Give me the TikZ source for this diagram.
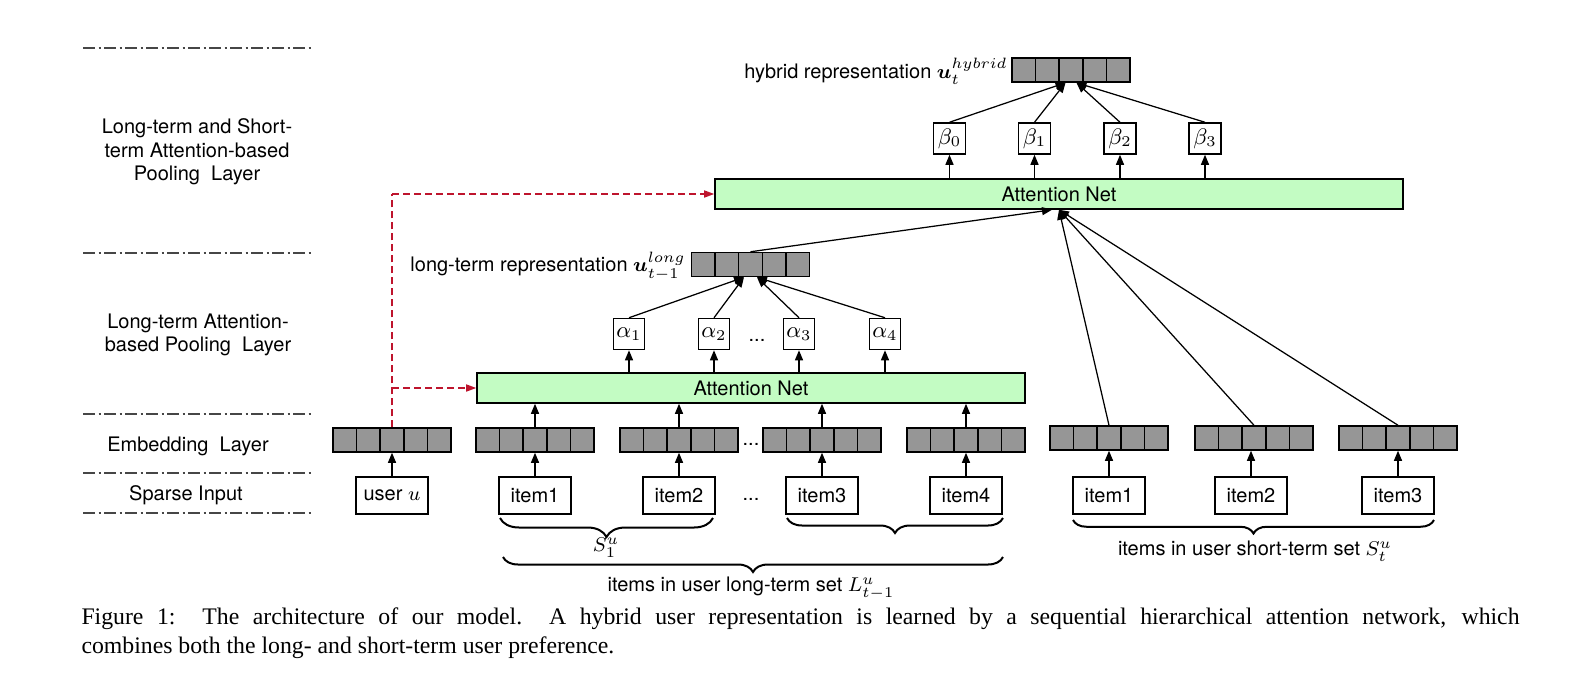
\documentclass[tikz,border=0pt]{standalone}
\usepackage{amsmath}
\usepackage{bm}
\usepackage{fontspec}
\setmainfont{TeX Gyre Heros}
\newfontfamily\capfont{Liberation Serif}
\usetikzlibrary{arrows.meta,calc,decorations.pathreplacing}
\definecolor{cellgray}{RGB}{150,150,150}
\definecolor{netgreen}{RGB}{195,252,195}
\definecolor{dashred}{RGB}{190,20,45}
\definecolor{layergray}{RGB}{70,70,70}
\tikzset{
  vec/.style={draw, fill=cellgray, minimum width=47.2pt, minimum height=9.6pt, inner sep=0pt, line width=0.6pt,
    path picture={\foreach \i in {1,2,3,4}{\draw[line width=0.6pt] ($(path picture bounding box.south west)!\i/5!(path picture bounding box.south east)$) -- ($(path picture bounding box.north west)!\i/5!(path picture bounding box.north east)$);}}},
  inbox/.style={draw, fill=white, minimum width=28.8pt, minimum height=14.8pt, inner sep=0pt, line width=0.6pt},
  abox/.style={draw, fill=white, minimum width=12.4pt, minimum height=12.4pt, inner sep=0pt, line width=0.6pt, font=\fontsize{9}{10}\selectfont},
  bbox/.style={draw, fill=white, minimum width=12.8pt, minimum height=12.4pt, inner sep=0pt, line width=0.6pt, font=\fontsize{9}{10}\selectfont},
  net/.style={draw, fill=netgreen, minimum height=12pt, inner sep=0pt, line width=0.6pt},
  arr/.style={-{Triangle[length=4pt,width=3.2pt]}, line width=0.5pt},
  redarr/.style={draw=dashred, dash pattern=on 2.8pt off 1.6pt, line width=0.6pt, -{Triangle[length=4pt,width=2.8pt]}},
  redline/.style={draw=dashred, dash pattern=on 2.8pt off 1.6pt, line width=0.6pt},
  lab/.style={align=center, inner sep=0pt},
  layerline/.style={draw=layergray, line width=0.45pt, dash pattern=on 4.8pt off 1.4pt on 0.8pt off 1.4pt},
  brc/.style={decorate, decoration={brace, mirror, amplitude=#1}, line width=0.8pt}
}
\begin{document}
\begin{tikzpicture}[x=0.4pt,y=-0.4pt, every node/.style={font=\fontsize{8}{9.4}\selectfont}]
\useasboundingbox (0,0) rectangle (1582,682);

% layer separators
\foreach \yy in {48,253,414,473,513} \draw[layerline] (83,\yy) -- (313,\yy);

% layer labels
\node[lab] (L1) at (197,152) {Long-term and Short-\\term Attention-based\\Pooling\ \ Layer};
\node[lab] (L2) at (198,335) {Long-term Attention-\\based Pooling\ \ Layer};
\node[lab] (L3) at (188,446) {Embedding\ \ Layer};
\node[lab] (L4) at (186,495) {Sparse Input};

% embedding vectors
\node[vec] (vu) at (392,440) {};
\node[vec] (v1) at (535,440) {};
\node[vec] (v2) at (679,440) {};
\node[vec] (v3) at (822,440) {};
\node[vec] (v4) at (966,440) {};
\node[vec] (s1) at (1109,438) {};
\node[vec] (s2) at (1254,438) {};
\node[vec] (s3) at (1398,438) {};
\node (dv) at (751,444) {...};

% inputs
\node[inbox] (iu) at (392,495.5) {user $u$};
\node[inbox] (i1) at (535,495.5) {item1};
\node[inbox] (i2) at (679,495.5) {item2};
\node[inbox] (i3) at (822,495.5) {item3};
\node[inbox] (i4) at (966,495.5) {item4};
\node[inbox] (j1) at (1109,495.5) {item1};
\node[inbox] (j2) at (1251,495.5) {item2};
\node[inbox] (j3) at (1398,495.5) {item3};
\node (di) at (751,499) {...};

% input -> embedding
\foreach \a/\b in {iu/vu,i1/v1,i2/v2,i3/v3,i4/v4,j1/s1,j3/s3}
  \draw[arr] (\a.north) -- (\b.south);
\draw[arr] (j2.north) -- (j2.north |- s2.south);

% lower attention net
\node[net, minimum width=219.2pt] (lnet) at (751,388) {Attention Net};
\foreach \b in {v1,v2,v3,v4}
  \draw[arr] (\b.north) -- (\b.north |- lnet.south);

% alpha boxes
\node[abox] (a1) at (629,334) {$\alpha_1$};
\node[abox] (a2) at (714,334) {$\alpha_2$};
\node[abox] (a3) at (799,334) {$\alpha_3$};
\node[abox] (a4) at (885,334) {$\alpha_4$};
\node (da) at (757,340) {...};
\foreach \b in {a1,a2,a3,a4}
  \draw[arr] (\b.south |- lnet.north) -- (\b.south);

% long-term representation
\node[vec] (lv) at (750.5,264.5) {};
\node[anchor=east, inner sep=0pt] (lvl) at (686,266) {long-term representation $\bm{u}_{t-1}^{long}$};
\draw[arr] (a1.north) -- ($(lv.south)+(-6.5,0)$);
\draw[arr] (a2.north) -- ($(lv.south)+(-6.5,0)$);
\draw[arr] (a3.north) -- ($(lv.south)+(6.5,0)$);
\draw[arr] (a4.north) -- ($(lv.south)+(6.5,0)$);

% top attention net
\node[net, minimum width=275.2pt] (tnet) at (1059,194) {Attention Net};
\draw[arr] (lv.north) -- ($(tnet.south)+(-7,0)$);
\foreach \b in {s1,s2,s3}
  \draw[arr] (\b.north) -- (tnet.south);

% beta boxes
\node[bbox] (b0) at (949.5,138.5) {$\beta_0$};
\node[bbox] (b1) at (1034.5,138.5) {$\beta_1$};
\node[bbox] (b2) at (1120,138.5) {$\beta_2$};
\node[bbox] (b3) at (1205,138.5) {$\beta_3$};
\foreach \b in {b0,b1,b2,b3}
  \draw[arr] (\b.south |- tnet.north) -- (\b.south);

% hybrid representation
\node[vec] (hv) at (1071,70) {};
\node[anchor=east, inner sep=0pt] (hvl) at (1008,71) {hybrid representation $\bm{u}_{t}^{hybrid}$};
\draw[arr] (b0.north) -- ($(hv.south)+(-5.5,0)$);
\draw[arr] (b1.north) -- ($(hv.south)+(-5.5,0)$);
\draw[arr] (b2.north) -- ($(hv.south)+(5.5,0)$);
\draw[arr] (b3.north) -- ($(hv.south)+(5.5,0)$);

% red dashed user connections
\coordinate (rtop) at (vu.north |- tnet.west);
\coordinate (rlow) at (vu.north |- lnet.west);
\draw[redline] (vu.north) -- (rtop);
\draw[redarr] (rtop) -- (tnet.west);
\draw[redarr] (rlow) -- (lnet.west);

% braces
\draw[brc=7.6pt] (500,518) -- (713,518);
\draw[brc=6pt] (787,518) -- (1003,518);
\draw[brc=6pt] (503,557) -- (1003,557);
\draw[brc=5.4pt] (1073,520) -- (1434,520);
\node (S1) at (606,548) {$S_1^u$};
\node (Llab) at (751,588) {items in user long-term set $L_{t-1}^u$};
\node (Slab) at (1255,551) {items in user short-term set $S_t^u$};

% caption
\node[anchor=north west, inner sep=0pt, text width=575.2pt, align=justify, font=\capfont\fontsize{9.5}{11.8}\selectfont] (cap) at (81,607)
  {Figure 1:\ \ The architecture of our model.\ \ A hybrid user representation is learned by a sequential hierarchical attention network, which\linebreak combines both the long- and short-term user preference.};
\end{tikzpicture}
\end{document}
